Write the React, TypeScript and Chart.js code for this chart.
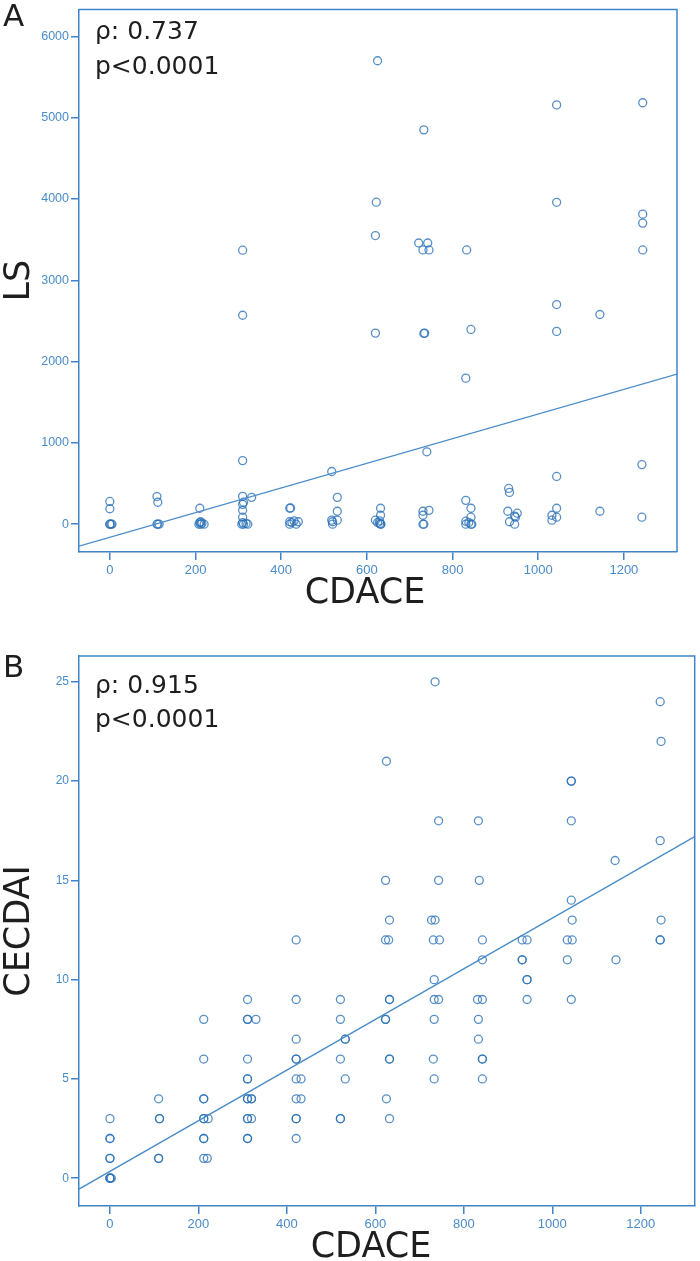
import React, { useEffect, useRef } from "react";
import { Chart, registerables } from "chart.js";

Chart.register(...registerables);

// ---------------- DATA ----------------
// Panel A: CDACE vs LS
const cdaceA = [
  0, 0, 0, 0, 3, 5,
  110, 112, 110, 112, 115,
  210, 208, 210, 212, 215, 220, 212,
  310, 310, 310, 310, 312, 310, 310, 310, 331, 308, 310, 312, 318, 322,
  420, 422, 420, 425, 430, 440, 420, 435,
  518, 531, 531, 531, 520, 520, 518,
  625, 622, 620, 620, 632, 632, 620, 632, 630, 625, 630, 633,
  733, 721, 742, 731, 745, 733, 735, 740, 731, 745, 731, 731, 733,
  833, 843, 831, 831, 843, 843, 831, 843, 845, 831, 838,
  931, 933, 929, 947, 951, 945, 933, 945,
  1043, 1043, 1043, 1043, 1043, 1043, 1032, 1032, 1043,
  1144, 1144,
  1244, 1244, 1244, 1244, 1242, 1242,
];
const lsA = [
  280, 190, 0, 0, 0, 0,
  340, 270, 0, 0, 0,
  196, 0, 20, 0, 10, 0, 30,
  3370, 2570, 782, 342, 270, 244, 171, 86, 330, 0, 20, 0, 10, 0,
  196, 200, 0, 20, 40, 30, 30, 0,
  648, 330, 159, 49, 0, 30, 50,
  5700, 3960, 3550, 2350, 196, 110, 49, 0, 10, 20, 40, 0,
  4850, 3458, 3458, 3373, 3373, 2346, 2350, 890, 159, 170, 110, 0, 0,
  3373, 2395, 1796, 293, 196, 86, 37, 0, 0, 0, 20,
  440, 391, 159, 86, 135, 0, 30, 100,
  5157, 3959, 2701, 2371, 587, 196, 110, 49, 86,
  2579, 159,
  5183, 3813, 3703, 3373, 733, 86,
];
const fitXA = [-72, 1324];
const fitYA = [-269, 1846];
const xTicksA = [0, 200, 400, 600, 800, 1000, 1200];
const yTicksA = [0, 1000, 2000, 3000, 4000, 5000, 6000];

// Panel B: CDACE vs CECDAI
const cdaceB = [
  0, 0, 0, 3, 0, 0, 0, 0, 0,
  110, 110, 112, 112, 110,
  212, 212, 212, 212, 212, 212, 222, 212, 212, 212, 220,
  311, 311, 311, 330, 311, 311, 311, 311, 311, 320, 320, 311, 311, 320, 311, 311,
  421, 421, 421, 421, 421, 421, 432, 421, 432, 421, 421, 421,
  521, 521, 532, 532, 521, 532, 521, 521,
  625, 623, 632, 623, 630, 632, 632, 623, 623, 632, 632, 625, 632,
  735, 743, 743, 727, 735, 731, 745, 733, 733, 743, 733, 731, 733,
  833, 835, 842, 842, 831, 842, 833, 833, 842, 842, 842,
  932, 943, 932, 932, 943, 943, 943,
  1043, 1043, 1043, 1043, 1045, 1034, 1045, 1034, 1043,
  1142, 1144,
  1244, 1246, 1244, 1246, 1244, 1244,
];
const cecdaiB = [
  0, 0, 0, 0, 1, 1, 2, 2, 3,
  1, 1, 3, 3, 4,
  8, 6, 4, 4, 3, 3, 3, 2, 2, 1, 1,
  9, 8, 8, 8, 6, 5, 5, 4, 4, 4, 4, 3, 3, 3, 2, 2,
  12, 9, 7, 6, 6, 5, 5, 4, 4, 3, 3, 2,
  9, 8, 7, 7, 6, 5, 3, 3,
  21, 15, 13, 12, 12, 9, 9, 8, 8, 6, 6, 4, 3,
  25, 18, 15, 13, 13, 12, 12, 10, 9, 9, 8, 6, 5,
  18, 15, 12, 11, 9, 9, 8, 7, 6, 6, 5,
  12, 12, 11, 11, 10, 10, 9,
  20, 20, 18, 14, 13, 12, 12, 11, 9,
  16, 11,
  24, 22, 17, 13, 12, 12,
];
const fitXB = [-70, 1322];
const fitYB = [-0.55, 17.2];
const xTicksB = [0, 200, 400, 600, 800, 1000, 1200];
const yTicksB = [0, 5, 10, 15, 20, 25];

// ---------------- STYLE ----------------
const BLUE = "#3f84c6";
const TICK_BLUE = "#4a8bc9";
const POINT = "rgba(40,112,182,0.78)";
const TEXT_FONT = "'DejaVu Sans', 'Open Sans', sans-serif";
const TICK_FONT = "'Liberation Sans', Arial, sans-serif";

type PanelSpec = {
  xs: number[];
  ys: number[];
  fitX: number[];
  fitY: number[];
  xTicks: number[];
  yTicks: number[];
  xMin: number;
  xMax: number;
  yMin: number;
  yMax: number;
  height: number;
  padTop: number;
  padRight: number;
  xAxisH: number;
  letter: string;
  letterY: number;
  rho: string;
  rhoY: number;
  pY: number;
  xTitle: string;
  xTitleX: number;
  xTitleY: number;
  yTitle: string;
  yTickFont: number;
};

function makeConfig(p: PanelSpec): any {
  const pts = p.xs.map((x, i) => ({ x, y: p.ys[i] }));
  const fit = p.fitX.map((x, i) => ({ x, y: p.fitY[i] }));
  const overlay = {
    id: "overlay",
    afterDraw(chart: any) {
      const ctx = chart.ctx;
      const a = chart.chartArea;
      ctx.save();
      // top and right frame
      ctx.strokeStyle = BLUE;
      ctx.lineWidth = 1.5;
      ctx.beginPath();
      ctx.moveTo(a.left, a.top);
      ctx.lineTo(a.right, a.top);
      ctx.lineTo(a.right, a.bottom);
      ctx.stroke();
      // texts
      ctx.fillStyle = "#1e1e1e";
      ctx.textBaseline = "alphabetic";
      ctx.textAlign = "left";
      ctx.font = `31px ${TEXT_FONT}`;
      ctx.fillText(p.letter, 3, p.letterY);
      ctx.font = `25px ${TEXT_FONT}`;
      ctx.fillText(p.rho, 95, p.rhoY);
      ctx.fillText("p<0.0001", 95, p.pY);
      ctx.font = `35px ${TEXT_FONT}`;
      ctx.textAlign = "center";
      ctx.fillText(p.xTitle, p.xTitleX, p.xTitleY);
      ctx.translate(29, (a.top + a.bottom) / 2);
      ctx.rotate(-Math.PI / 2);
      ctx.fillText(p.yTitle, 0, 0);
      ctx.restore();
    },
  };
  return {
    type: "scatter",
    data: {
      datasets: [
        {
          type: "line",
          data: fit,
          borderColor: "#4a8cc8",
          borderWidth: 1.3,
          pointRadius: 0,
          fill: false,
        },
        {
          data: pts,
          pointRadius: 4,
          pointBorderWidth: 1.3,
          borderColor: POINT,
          backgroundColor: "rgba(0,0,0,0)",
          pointStyle: "circle",
        },
      ],
    },
    options: {
      responsive: false,
      animation: false,
      events: [],
      layout: { padding: { top: p.padTop, right: p.padRight, left: 0, bottom: 0 } },
      plugins: { legend: { display: false }, tooltip: { enabled: false } },
      scales: {
        x: {
          type: "linear",
          min: p.xMin,
          max: p.xMax,
          afterBuildTicks: (ax: any) => {
            ax.ticks = p.xTicks.map((v) => ({ value: v }));
          },
          afterFit: (s: any) => {
            s.height = p.xAxisH;
          },
          grid: { display: true, drawOnChartArea: false, tickLength: 8, color: BLUE, lineWidth: 1.5 },
          border: { display: true, color: BLUE, width: 1.5 },
          ticks: {
            color: TICK_BLUE,
            font: { family: TICK_FONT, size: 13 },
            padding: 3,
            maxRotation: 0,
            autoSkip: false,
            callback: (v: any) => String(v),
          },
        },
        y: {
          type: "linear",
          min: p.yMin,
          max: p.yMax,
          afterBuildTicks: (ax: any) => {
            ax.ticks = p.yTicks.map((v) => ({ value: v }));
          },
          afterFit: (s: any) => {
            s.width = 79;
          },
          grid: { display: true, drawOnChartArea: false, tickLength: 8, color: BLUE, lineWidth: 1.5 },
          border: { display: true, color: BLUE, width: 1.5 },
          ticks: {
            color: TICK_BLUE,
            font: { family: TICK_FONT, size: p.yTickFont },
            padding: 2,
            autoSkip: false,
            callback: (v: any) => String(v),
          },
        },
      },
    },
    plugins: [overlay],
  };
}

const panelA: PanelSpec = {
  xs: cdaceA,
  ys: lsA,
  fitX: fitXA,
  fitY: fitYA,
  xTicks: xTicksA,
  yTicks: yTicksA,
  xMin: -72,
  xMax: 1324,
  yMin: -342,
  yMax: 6330,
  height: 620,
  padTop: 6,
  padRight: 23,
  xAxisH: 68,
  letter: "A",
  letterY: 26,
  rho: "ρ: 0.737",
  rhoY: 39,
  pY: 74,
  xTitle: "CDACE",
  xTitleX: 365,
  xTitleY: 603,
  yTitle: "LS",
  yTickFont: 12.5,
};

const panelB: PanelSpec = {
  xs: cdaceB,
  ys: cecdaiB,
  fitX: fitXB,
  fitY: fitYB,
  xTicks: xTicksB,
  yTicks: yTicksB,
  xMin: -70,
  xMax: 1322,
  yMin: -1.4,
  yMax: 26.3,
  height: 641,
  padTop: 36,
  padRight: 4,
  xAxisH: 55,
  letter: "B",
  letterY: 57,
  rho: "ρ: 0.915",
  rhoY: 73,
  pY: 107,
  xTitle: "CDACE",
  xTitleX: 371,
  xTitleY: 637,
  yTitle: "CECDAI",
  yTickFont: 12,
};

function Panel({ spec, top }: { spec: PanelSpec; top: number }) {
  const ref = useRef<HTMLCanvasElement | null>(null);
  useEffect(() => {
    if (!ref.current) return;
    const chart = new Chart(ref.current, makeConfig(spec));
    return () => chart.destroy();
  }, [spec]);
  return (
    <canvas
      ref={ref}
      width={700}
      height={spec.height}
      style={{ position: "absolute", left: 0, top, width: 700, height: spec.height, display: "block" }}
    />
  );
}

export default function App() {
  return (
    <div style={{ position: "absolute", left: 0, top: 0, width: 700, height: 1261, background: "#fff" }}>
      <Panel spec={panelA} top={0} />
      <Panel spec={panelB} top={620} />
    </div>
  );
}
